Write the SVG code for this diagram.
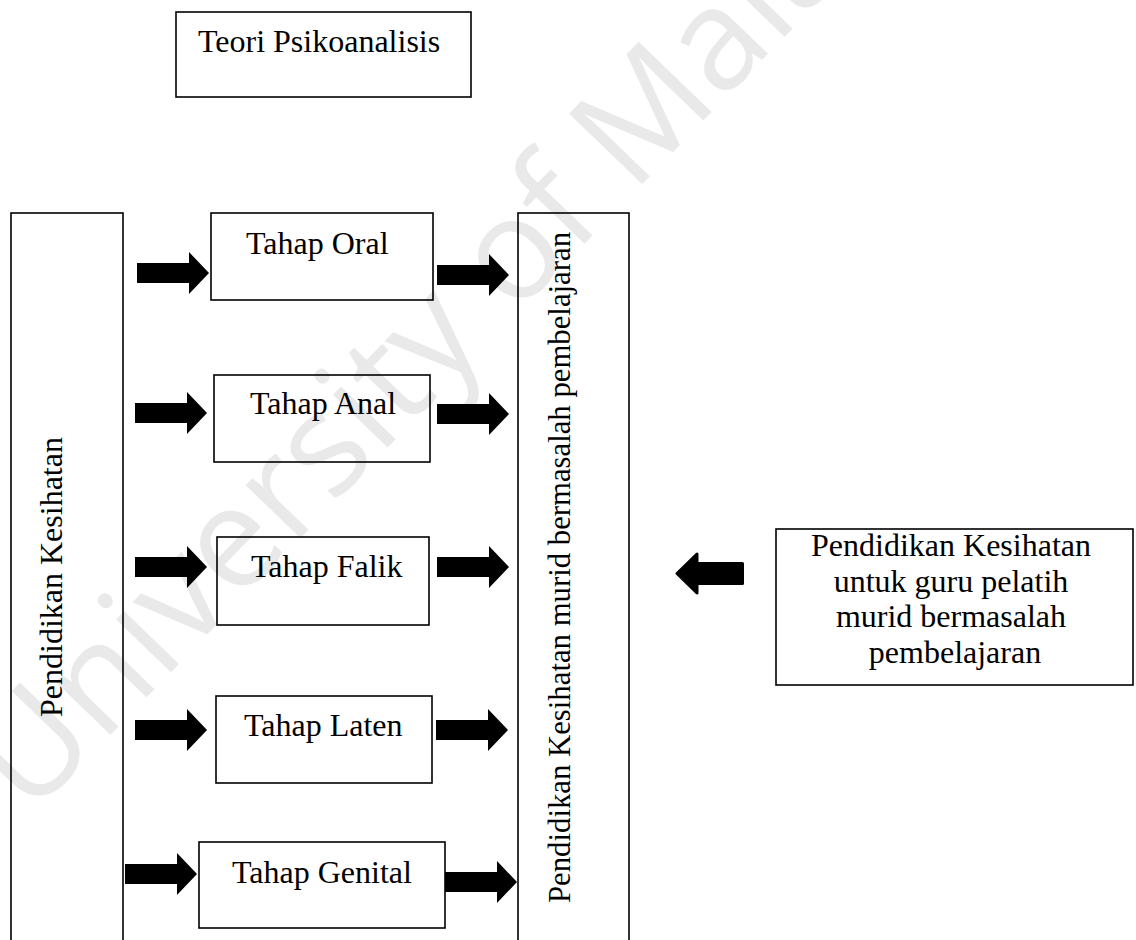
<svg xmlns="http://www.w3.org/2000/svg" xmlns:xlink="http://www.w3.org/1999/xlink" width="1136" height="940" viewBox="0 0 1136 940">
  <style>
    .box { fill: none; stroke: #000; stroke-width: 1.6; }
    .lbl { font-family: "Liberation Serif", "Times New Roman", serif; font-size: 32px; fill: #000; }
    .mark { font-family: "Open Sans", "Noto Sans", sans-serif; font-size: 142px; fill: #e9e9e9; }
    .blk { fill: #000; }
  </style>
  <defs>
    <!-- block arrow pointing right, tip at (72,0) -->
    <path id="arrowR" d="M0,-10 H52 V-21 L72,0 L52,21 V10 H0 Z"/>
  </defs>

  <rect width="1136" height="940" fill="#fff"/>

  <!-- background watermark -->
  <text class="mark" transform="translate(30,818) rotate(-46)">University of Malaya</text>

  <g id="teori">
    <rect class="box" x="176" y="12" width="295" height="85"/>
    <text class="lbl" x="198" y="52">Teori Psikoanalisis</text>
  </g>

  <g id="pendidikan-kesihatan">
    <rect class="box" x="11" y="213" width="112" height="745"/>
    <text class="lbl" transform="translate(62,717) rotate(-90)">Pendidikan Kesihatan</text>
  </g>

  <g id="tahap-oral">
    <rect class="box" x="211" y="213" width="222" height="87"/>
    <text class="lbl" x="246" y="254">Tahap Oral</text>
  </g>

  <g id="tahap-anal">
    <rect class="box" x="214" y="375" width="216" height="87"/>
    <text class="lbl" x="250" y="414">Tahap Anal</text>
  </g>

  <g id="tahap-falik">
    <rect class="box" x="217" y="537" width="212" height="88"/>
    <text class="lbl" x="251" y="577">Tahap Falik</text>
  </g>

  <g id="tahap-laten">
    <rect class="box" x="216" y="696" width="216" height="87"/>
    <text class="lbl" x="244" y="736">Tahap Laten</text>
  </g>

  <g id="tahap-genital">
    <rect class="box" x="199" y="842" width="246" height="86"/>
    <text class="lbl" x="232" y="883">Tahap Genital</text>
  </g>

  <g id="pk-murid">
    <rect class="box" x="518" y="213" width="111" height="745"/>
    <text class="lbl" font-size="31" textLength="671" lengthAdjust="spacingAndGlyphs" transform="translate(570,903) rotate(-90)">Pendidikan Kesihatan murid bermasalah pembelajaran</text>
  </g>

  <g id="pk-guru">
    <rect class="box" x="776" y="529" width="357" height="156"/>
    <text class="lbl" text-anchor="middle">
      <tspan x="955" y="556">Pendidikan Kesihatan</tspan>
      <tspan x="955" y="592">untuk guru pelatih</tspan>
      <tspan x="955" y="627">murid bermasalah</tspan>
      <tspan x="955" y="663">pembelajaran</tspan>
    </text>
  </g>

  <g id="connectors" class="blk">
    <use xlink:href="#arrowR" x="137" y="273"/>
    <use xlink:href="#arrowR" x="437" y="275"/>
    <use xlink:href="#arrowR" x="135" y="413"/>
    <use xlink:href="#arrowR" x="437" y="414"/>
    <use xlink:href="#arrowR" x="135" y="567"/>
    <use xlink:href="#arrowR" x="437" y="567"/>
    <use xlink:href="#arrowR" x="135" y="730"/>
    <use xlink:href="#arrowR" x="436" y="730"/>
    <use xlink:href="#arrowR" x="125" y="874"/>
    <use xlink:href="#arrowR" x="445" y="882"/>
    <!-- rounded arrow pointing left, from the teacher-training box -->
    <path d="M677,573.5 L697,554 L697,563.5 L742.5,563.5 L742.5,583.5 L697,583.5 L697,593 Z" stroke="#000" stroke-width="3" stroke-linejoin="round"/>
  </g>
</svg>
